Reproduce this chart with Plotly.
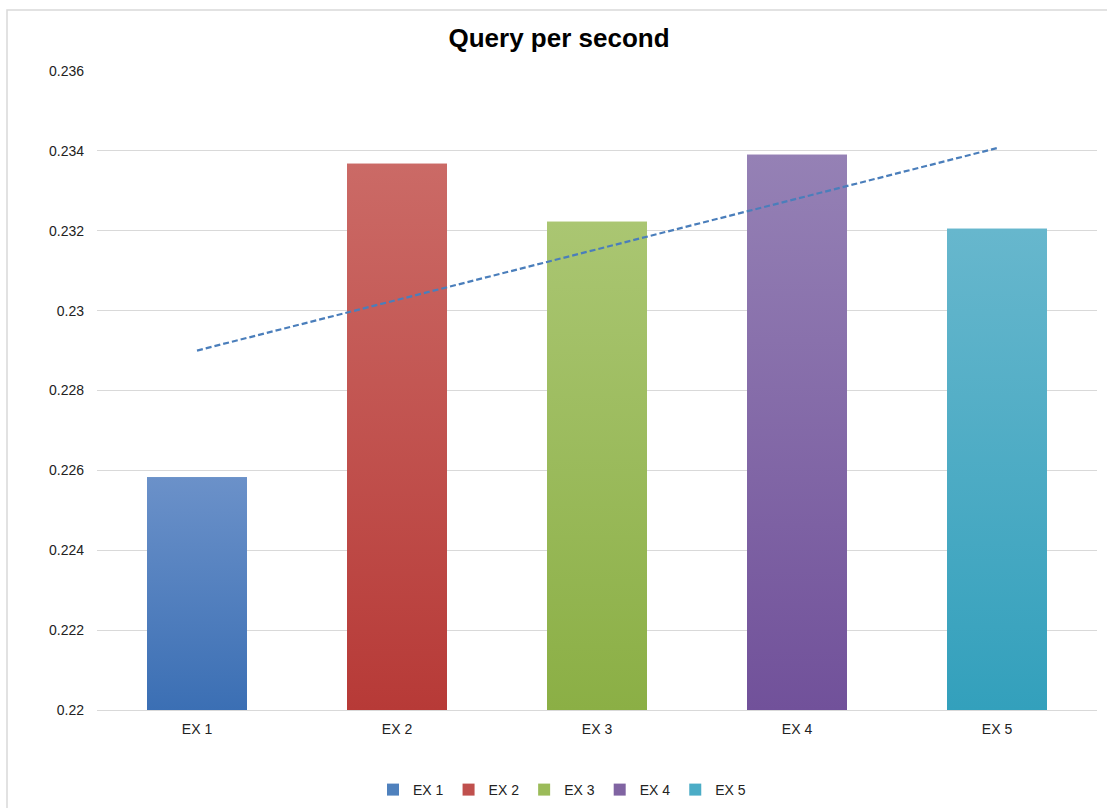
import numpy as np
import plotly.graph_objects as go

categories = ["EX 1", "EX 2", "EX 3", "EX 4", "EX 5"]
values = [0.225825, 0.233675, 0.232225, 0.2339, 0.23205]
colors = ["#4f81bd", "#c0504d", "#9bbb59", "#8064a2", "#4bacc6"]
top_colors = ["#6b91c9", "#cb6a66", "#aac672", "#9581b5", "#67b7cd"]
bottom_colors = ["#3b6fb4", "#b73a37", "#8baf45", "#71519a", "#33a0bc"]
y_ticks = [0.22, 0.222, 0.224, 0.226, 0.228, 0.23, 0.232, 0.234, 0.236]
y_tick_labels = ["0.22", "0.222", "0.224", "0.226", "0.228", "0.23", "0.232", "0.234", "0.236"]
y_base = 0.22
bar_width = 0.5

positions = list(range(len(categories)))
fig = go.Figure()
for pos, cat, val, col in zip(positions, categories, values, colors):
    fig.add_trace(go.Bar(x=[pos], y=[val - y_base], base=y_base, name=cat,
                         marker=dict(color=col, line=dict(width=0)), width=bar_width,
                         hoverinfo="skip"))

# gradient shading of each bar (same extent as the bar, drawn from the data)
for pos, val, top, bot in zip(positions, values, top_colors, bottom_colors):
    x0, x1 = pos - bar_width / 2, pos + bar_width / 2
    fig.add_trace(go.Scatter(x=[x0, x1, x1, x0, x0], y=[y_base, y_base, val, val, y_base],
                             mode="lines", fill="toself", line=dict(width=0, color=top),
                             fillgradient=dict(type="vertical", colorscale=[[0, bot], [1, top]]),
                             showlegend=False, hoverinfo="skip"))

# linear trendline (least squares on the data)
xs = np.array(positions, dtype=float)
slope, intercept = np.polyfit(xs, values, 1)
trend = slope * xs + intercept
fig.add_trace(go.Scatter(x=xs, y=trend, mode="lines", showlegend=False,
                         line=dict(color="#4a7ebb", width=2.2, dash="6px,3px")))

fig.update_layout(
    width=1107, height=808,
    margin=dict(l=97, r=10, t=71, b=98),
    paper_bgcolor="white", plot_bgcolor="white",
    barmode="overlay",
    font=dict(family="Liberation Sans, Arial, sans-serif", size=14, color="#222"),
    title=dict(text="<b>Query per second</b>", x=559 / 1107, xanchor="center",
               y=1 - 38 / 808, yanchor="middle", yref="container",
               font=dict(size=26, color="#000")),
    legend=dict(orientation="h", xref="container", x=562 / 1107, xanchor="center",
                yref="container", y=1 - 790 / 808, yanchor="middle",
                font=dict(size=14, color="#222"), itemwidth=30, tracegroupgap=0),
    xaxis=dict(range=[-0.5, len(categories) - 0.5], tickvals=positions, ticktext=categories,
               showgrid=False, zeroline=False, showline=True, linecolor="#d9d9d9", linewidth=1,
               ticks="", ticklabelstandoff=6, tickfont=dict(size=14)),
    yaxis=dict(range=[0.22, 0.236], tickvals=y_ticks, ticktext=y_tick_labels,
               showgrid=True, gridcolor="#d9d9d9", gridwidth=1, zeroline=False,
               showline=False, ticks="", ticklabelstandoff=12, tickfont=dict(size=14)),
    shapes=[dict(type="rect", xref="paper", yref="paper",
                 x0=(7 - 97) / 1000, x1=1.05, y0=-0.3, y1=(710 - 10) / 639,
                 line=dict(color="#d9d9d9", width=1.5), fillcolor="rgba(0,0,0,0)", layer="below")],
)

fig.write_html("out.html")
